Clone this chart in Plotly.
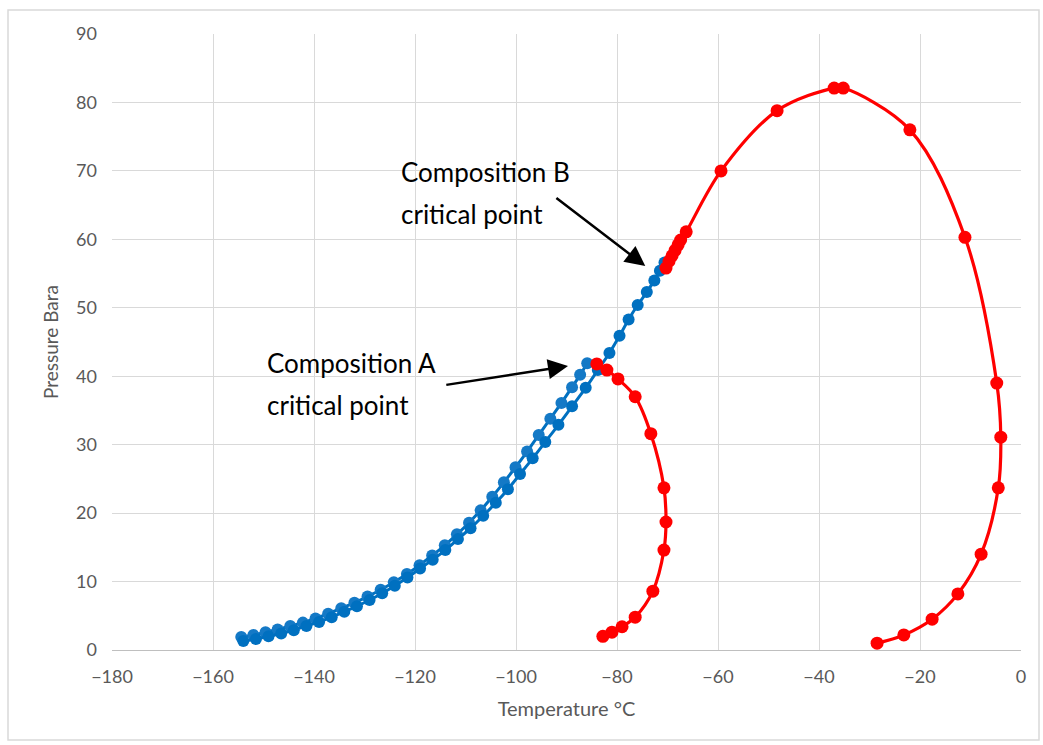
import plotly.graph_objects as go

# Blue curve A (ends at composition A critical point)
a_temp = [-154.4, -152.0, -149.6, -147.2, -144.7, -142.2, -139.7, -137.2, -134.6, -132.0,
          -129.4, -126.8, -124.2, -121.6, -119.1, -116.6, -114.1, -111.7, -109.3, -107.0,
          -104.7, -102.4, -100.1, -97.8, -95.5, -93.2, -91.0, -88.9, -87.3, -85.9]
a_pres = [1.9, 2.2, 2.6, 3.0, 3.5, 4.0, 4.6, 5.3, 6.1, 6.9,
          7.8, 8.8, 9.9, 11.1, 12.4, 13.8, 15.3, 16.9, 18.6, 20.4,
          22.4, 24.5, 26.7, 29.0, 31.4, 33.8, 36.1, 38.4, 40.2, 41.9]

# Blue curve B (ends at composition B critical point)
b_temp = [-154.0, -151.5, -149.0, -146.5, -144.0, -141.5, -139.0, -136.5, -134.0, -131.5,
          -129.0, -126.5, -124.0, -121.5, -119.0, -116.5, -114.0, -111.5, -109.0, -106.5,
          -104.0, -101.6, -99.2, -96.7, -94.2, -91.6, -88.9, -86.2, -83.8, -81.5,
          -79.5, -77.7, -75.9, -74.1, -72.6, -71.5, -70.6]
b_pres = [1.3, 1.6, 2.0, 2.4, 2.9, 3.5, 4.1, 4.8, 5.6, 6.4,
          7.3, 8.3, 9.4, 10.6, 11.9, 13.2, 14.6, 16.2, 17.8, 19.6,
          21.5, 23.5, 25.7, 28.0, 30.4, 32.9, 35.6, 38.3, 40.9, 43.4,
          45.9, 48.3, 50.4, 52.3, 54.0, 55.4, 56.6]

# Red curve A (dew side)
ra_temp = [-84.0, -82.0, -79.8, -76.4, -73.3, -70.7, -70.3, -70.7, -72.9, -76.4, -79.0, -81.0, -82.8]
ra_pres = [41.8, 40.9, 39.6, 37.0, 31.6, 23.7, 18.7, 14.6, 8.6, 4.8, 3.4, 2.6, 2.0]

# Red curve B (dew side)
rb_temp = [-70.3, -69.7, -69.1, -68.5, -67.9, -67.4, -66.3, -59.4, -48.3, -37.0, -35.2,
           -22.0, -11.1, -4.8, -4.0, -4.5, -7.9, -12.5, -17.6, -23.2, -28.5]
rb_pres = [55.8, 56.8, 57.6, 58.4, 59.2, 59.9, 61.1, 70.0, 78.8, 82.1, 82.1,
           76.0, 60.3, 39.0, 31.1, 23.7, 14.0, 8.2, 4.5, 2.2, 1.0]

x_ticks = [-180, -160, -140, -120, -100, -80, -60, -40, -20, 0]
y_ticks = [0, 10, 20, 30, 40, 50, 60, 70, 80, 90]

BLUE = "#0070C0"
RED = "#FF0000"
FONT = "Lato"

fig = go.Figure()
fig.add_trace(go.Scatter(x=a_temp, y=a_pres, mode="lines+markers",
                         line=dict(color=BLUE, width=3, shape="spline"),
                         marker=dict(color="#1479C6", size=12), showlegend=False))
fig.add_trace(go.Scatter(x=b_temp, y=b_pres, mode="lines+markers",
                         line=dict(color=BLUE, width=3, shape="spline"),
                         marker=dict(color=BLUE, size=12), showlegend=False))
fig.add_trace(go.Scatter(x=ra_temp, y=ra_pres, mode="lines+markers",
                         line=dict(color=RED, width=3.2, shape="spline"),
                         marker=dict(color=RED, size=13), showlegend=False))
fig.add_trace(go.Scatter(x=rb_temp, y=rb_pres, mode="lines+markers",
                         line=dict(color=RED, width=3.2, shape="spline"),
                         marker=dict(color=RED, size=13), showlegend=False))

# Arrows
fig.add_annotation(x=-74.4, y=56.1, ax=-92.3, ay=66.2, xref="x", yref="y",
                   axref="x", ayref="y", showarrow=True, arrowhead=2,
                   arrowsize=1.6, arrowwidth=2.5, arrowcolor="black", text="")
fig.add_annotation(x=-89.7, y=41.5, ax=-114.1, ay=38.7, xref="x", yref="y",
                   axref="x", ayref="y", showarrow=True, arrowhead=2,
                   arrowsize=1.6, arrowwidth=2.5, arrowcolor="black", text="")

# Labels
for txt, xv, yv in [("Composition B", -123.2, 69.8), ("critical point", -123.2, 63.7),
                    ("Composition A", -149.7, 41.9), ("critical point", -149.7, 35.8)]:
    fig.add_annotation(x=xv, y=yv, xref="x", yref="y", text=txt, showarrow=False,
                       xanchor="left", yanchor="middle",
                       font=dict(family=FONT, size=26, color="black"))

fig.add_shape(type="rect", xref="paper", yref="paper",
              x0=-0.1144, x1=1.0198, y0=-0.146, y1=1.039,
              line=dict(color="#D9D9D9", width=1.5), fillcolor="rgba(0,0,0,0)")

fig.update_layout(
    width=1043, height=745,
    margin=dict(l=112, r=22, t=34, b=95),
    paper_bgcolor="white", plot_bgcolor="white",
    font=dict(family=FONT, size=18, color="#595959"),
    xaxis=dict(range=[-180, 0], tickvals=x_ticks, showgrid=True, gridcolor="#D9D9D9",
               gridwidth=1, zeroline=False, showline=True, linecolor="#BFBFBF",
               ticks="", ticklabelstandoff=10,
               title=dict(text="Temperature °C", font=dict(size=20, color="#595959"), standoff=16)),
    yaxis=dict(range=[0, 90], tickvals=y_ticks, showgrid=True, gridcolor="#D9D9D9",
               gridwidth=1, zeroline=False, showline=False, ticks="",
               ticklabelstandoff=14,
               title=dict(text="Pressure Bara", font=dict(size=19, color="#595959"), standoff=12)),
)

fig.write_html("out.html", config={"displayModeBar": False},
               post_script="document.body.style.margin='0';document.body.style.overflow='hidden';")
